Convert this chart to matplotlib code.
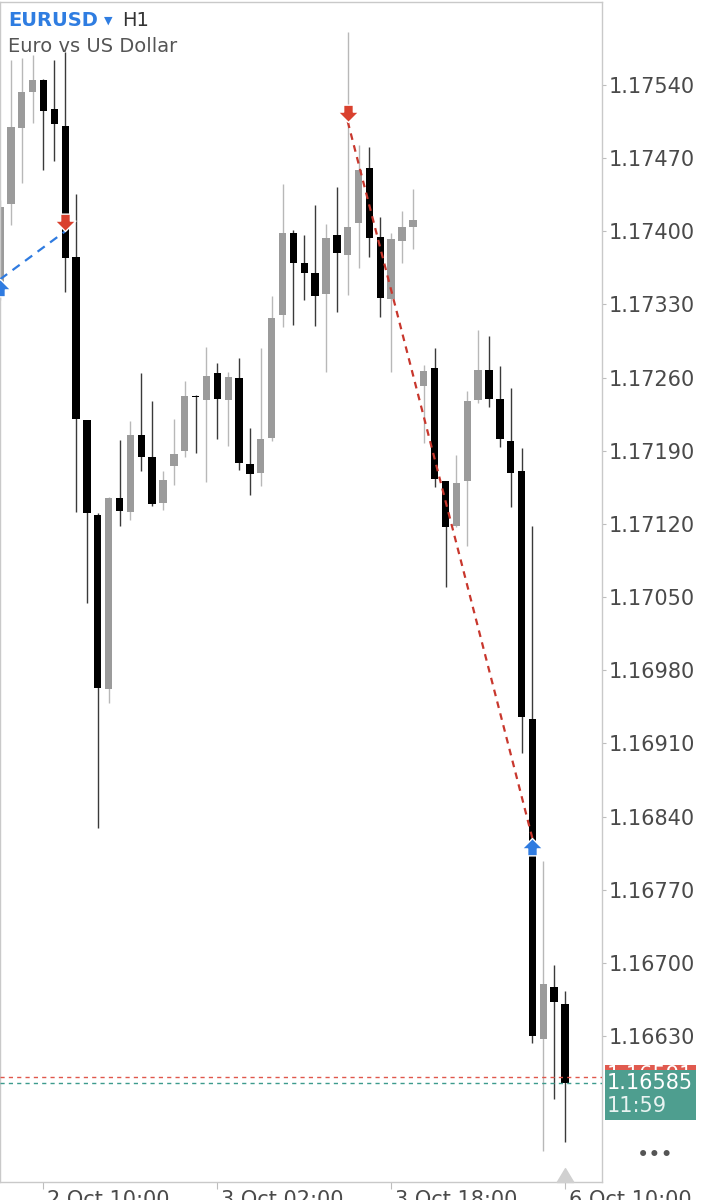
import matplotlib
matplotlib.use('Agg')
import matplotlib.pyplot as plt
import numpy as np
from matplotlib.path import Path
from matplotlib.patches import Rectangle
from matplotlib.transforms import blended_transform_factory, ScaledTranslation

# EURUSD H1 bars, index 0 = 2 Oct 10:00
bar_index = list(range(-4, 49))
opens = [1.17338, 1.17426, 1.17499, 1.17533, 1.17545, 1.17517, 1.17501, 1.17375, 1.17219, 1.17129,
         1.16962, 1.17145, 1.17131, 1.17205, 1.17184, 1.17140, 1.17175, 1.17190, 1.17242, 1.17239,
         1.17264, 1.17239, 1.17260, 1.17177, 1.17169, 1.17202, 1.17320, 1.17398, 1.17370, 1.17360,
         1.17340, 1.17396, 1.17377, 1.17408, 1.17461, 1.17395, 1.17335, 1.17391, 1.17404, 1.17252,
         1.17269, 1.17161, 1.17118, 1.17161, 1.17239, 1.17267, 1.17240, 1.17199, 1.17171, 1.16933,
         1.16627, 1.16677, 1.16661]
highs = [1.17430, 1.17564, 1.17566, 1.17569, 1.17546, 1.17564, 1.17572, 1.17436, 1.17219, 1.17130,
         1.17146, 1.17200, 1.17218, 1.17264, 1.17238, 1.17171, 1.17220, 1.17257, 1.17243, 1.17289,
         1.17274, 1.17265, 1.17279, 1.17212, 1.17288, 1.17338, 1.17445, 1.17401, 1.17396, 1.17425,
         1.17407, 1.17442, 1.17591, 1.17483, 1.17481, 1.17414, 1.17398, 1.17419, 1.17440, 1.17272,
         1.17288, 1.17161, 1.17186, 1.17247, 1.17306, 1.17300, 1.17271, 1.17250, 1.17193, 1.17118,
         1.16797, 1.16698, 1.16673]
lows = [1.17334, 1.17406, 1.17446, 1.17504, 1.17459, 1.17467, 1.17342, 1.17131, 1.17044, 1.16829,
        1.16949, 1.17118, 1.17124, 1.17171, 1.17137, 1.17133, 1.17157, 1.17184, 1.17188, 1.17160,
        1.17201, 1.17195, 1.17172, 1.17148, 1.17156, 1.17199, 1.17308, 1.17310, 1.17334, 1.17309,
        1.17265, 1.17323, 1.17339, 1.17365, 1.17375, 1.17318, 1.17265, 1.17370, 1.17383, 1.17197,
        1.17155, 1.17060, 1.17117, 1.17099, 1.17236, 1.17232, 1.17194, 1.17136, 1.16901, 1.16623,
        1.16520, 1.16570, 1.16529]
closes = [1.17423, 1.17500, 1.17533, 1.17545, 1.17515, 1.17503, 1.17374, 1.17220, 1.17130, 1.16963,
          1.17145, 1.17132, 1.17205, 1.17184, 1.17139, 1.17162, 1.17187, 1.17242, 1.17241, 1.17262,
          1.17240, 1.17261, 1.17178, 1.17168, 1.17201, 1.17317, 1.17398, 1.17370, 1.17360, 1.17338,
          1.17394, 1.17379, 1.17404, 1.17459, 1.17394, 1.17336, 1.17393, 1.17404, 1.17411, 1.17266,
          1.17163, 1.17117, 1.17159, 1.17238, 1.17267, 1.17240, 1.17201, 1.17169, 1.16935, 1.16630,
          1.16680, 1.16663, 1.16585]

# closed trades (bar index, price)
trade1_bars = [-4, 2]
trade1_prices = [1.17354, 1.17400]   # buy -> sell
trade2_bars = [28, 45]
trade2_prices = [1.17505, 1.16819]   # sell -> buy

bid = 1.16585
ask = 1.16591
timer = "11:59"

price_ticks = [1.16630, 1.16700, 1.16770, 1.16840, 1.16910, 1.16980, 1.17050,
               1.17120, 1.17190, 1.17260, 1.17330, 1.17400, 1.17470, 1.17540]
time_ticks = [0, 16, 32, 48]
time_labels = ['2 Oct 10:00', '3 Oct 02:00', '3 Oct 18:00', '6 Oct 10:00']

W, H = 706, 1200
fig = plt.figure(figsize=(W / 100, H / 100), dpi=100)
ax = fig.add_axes([0, 18 / H, 602 / W, 1180 / H])

x = np.array(bar_index)
o = np.array(opens); h = np.array(highs); l = np.array(lows); c = np.array(closes)
up = c >= o
body_col = np.where(up, '#9b9b9b', '#000000')
wick_col = np.where(up, '#b8b8b8', '#3a3a3a')

ax.vlines(x, l, h, colors=wick_col, linewidth=1.0, zorder=1)
ax.bar(x, np.maximum(np.abs(c - o), 1.3e-5), bottom=np.minimum(o, c), width=0.68,
       color=body_col, linewidth=0, zorder=2)

ax.set_xlim(-4.0, 51.4)
ax.set_ylim(1.164903, 1.176194)

# trade lines and arrows
ax.plot(trade1_bars, trade1_prices, color='#2f7be0', lw=1.6, dashes=(4, 3), zorder=4)
ax.plot(trade2_bars, trade2_prices, color='#c8372d', lw=1.6, dashes=(3, 2.5), zorder=4)

down_arrow = Path([(0, 0), (-0.6, 0.6), (-0.28, 0.6), (-0.28, 1.0), (0.28, 1.0),
                   (0.28, 0.6), (0.6, 0.6), (0, 0)], closed=True)
up_arrow = Path([(0, 0), (-0.6, -0.6), (-0.28, -0.6), (-0.28, -1.0), (0.28, -1.0),
                 (0.28, -0.6), (0.6, -0.6), (0, 0)], closed=True)
arrow_kw = dict(ms=25, mec='white', mew=1.0, zorder=5)
ax.plot(trade1_bars[0], trade1_prices[0], marker=up_arrow, color='#2f7be0', **arrow_kw)
ax.plot(trade1_bars[1], trade1_prices[1], marker=down_arrow, color='#d9412e', **arrow_kw)
ax.plot(trade2_bars[0], trade2_prices[0], marker=down_arrow, color='#d9412e', **arrow_kw)
ax.plot(trade2_bars[1], trade2_prices[1], marker=up_arrow, color='#2f7be0', **arrow_kw)

# bid / ask lines
ax.axhline(ask, color='#e0574c', lw=1, dashes=(3, 3), zorder=3)
ax.axhline(bid, color='#3d9b8d', lw=1, dashes=(3, 3), zorder=3)

# shift marker on the time axis
tri = Path([(-0.6, 0), (0.6, 0), (0, 1.0), (-0.6, 0)], closed=True)
ax.plot([time_ticks[-1]], [0], marker=tri, ms=20, color='#d0d0d0', clip_on=False, zorder=6,
        transform=blended_transform_factory(ax.transData, ax.transAxes))

# axes styling
for s in ax.spines.values():
    s.set_color('#c9c9c9')
    s.set_linewidth(1)
ax.yaxis.tick_right()
ax.set_yticks(price_ticks)
ax.set_yticklabels([f'{p:.5f}' for p in price_ticks])
ax.tick_params(axis='y', direction='out', length=3, width=0.8, color='#bdbdbd',
               labelsize=15, labelcolor='#4a4a4a', pad=2)
ax.set_xticks(time_ticks)
ax.set_xticklabels(time_labels, ha='left')
ax.tick_params(axis='x', direction='out', length=5, width=0.8, color='#bdbdbd',
               labelsize=15, labelcolor='#4a4a4a', pad=1)
shift = ScaledTranslation(4 / 100, 0, fig.dpi_scale_trans)
for lab in ax.get_xticklabels():
    lab.set_transform(lab.get_transform() + shift)

# header
fig.text(8 / W, 1 - 20 / H, 'EURUSD', color='#2f7de1', fontsize=14, fontweight='bold', va='center')
fig.text(104 / W, 1 - 21 / H, '▼', color='#2f7de1', fontsize=8, va='center')
fig.text(122 / W, 1 - 20 / H, 'H1', color='#333333', fontsize=14, va='center')
fig.text(8 / W, 1 - 46 / H, 'Euro vs US Dollar', color='#555555', fontsize=14, va='center')

# price labels on the right
fig.canvas.draw()
bid_px = ax.transData.transform((0, bid))[1]
ask_px = ax.transData.transform((0, ask))[1]
fig.add_artist(Rectangle((605 / W, (ask_px - 37) / H), 91 / W, 49 / H, transform=fig.transFigure,
                         facecolor='#e05a4f', edgecolor='none', zorder=5))
fig.text(607 / W, (ask_px + 2) / H, f'{ask:.5f}', color='white', fontsize=15, va='center', zorder=6)
fig.add_artist(Rectangle((605 / W, (bid_px - 37) / H), 91 / W, 50 / H, transform=fig.transFigure,
                         facecolor='#4e9e8f', edgecolor='none', zorder=7))
fig.text(607 / W, (bid_px + 0) / H, f'{bid:.5f}', color='white', fontsize=15, va='center', zorder=8)
fig.text(607 / W, (bid_px - 23) / H, timer, color='#e8f3f1', fontsize=15, va='center', zorder=8)

fig.text(655 / W, 1 - 1155 / H, '•••', color='#555555', fontsize=15, ha='center', va='center')

fig.savefig('out.png', dpi=100)
